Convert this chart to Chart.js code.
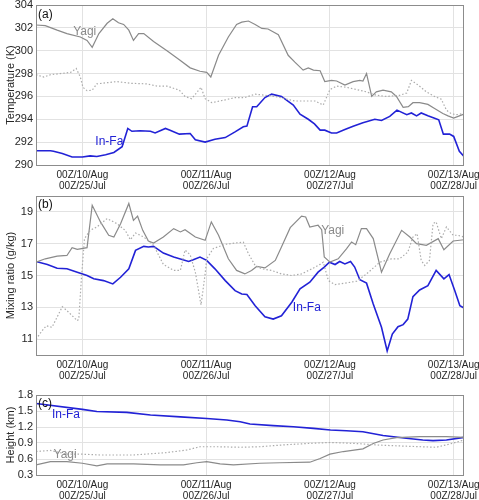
<!DOCTYPE html>
<html>
<head>
<meta charset="utf-8">
<script src="https://cdn.jsdelivr.net/npm/chart.js@4.4.1/dist/chart.umd.min.js"></script>
<style>
  body { margin: 0; background: #fff; }
  #wrap { position: relative; width: 479px; height: 500px; overflow: hidden; }
  canvas { position: absolute; left: 0; }
</style>
</head>
<body>
<div id="wrap">
  <canvas id="tempChart" width="479" height="195" style="top:0px"></canvas>
  <canvas id="mixChart" width="479" height="193" style="top:190px"></canvas>
  <canvas id="hgtChart" width="479" height="117" style="top:383px"></canvas>
</div>
<script>
// --- Axis ticks (hours after 00Z/10 Aug) ---
const tickHours = [0, 24, 48, 72];
const tickLabelsAug = ['00Z/10/Aug', '00Z/11/Aug', '00Z/12/Aug', '00Z/13/Aug'];
const tickLabelsJul = ['00Z/25/Jul', '00Z/26/Jul', '00Z/27/Jul', '00Z/28/Jul'];
const tempTicks = [290, 292, 294, 296, 298, 300, 302, 304];
const mixTicks = [11, 13, 15, 17, 19];
const hgtTicks = [0.3, 0.6, 0.9, 1.2, 1.5, 1.8];

// --- (a) Temperature ---
const tempYagiHours = [-9, -7.2, -4.9, -3, -0.4, 0.9, 1.9, 3.2, 4.8, 5.9, 7, 8, 9, 9.9, 10.9, 11.9, 13.8, 16.4, 18.8, 20.9, 22.8, 24.1, 24.9, 26.4, 28.3, 29.9, 30.9, 32.2, 33.5, 34.8, 36, 38, 39.9, 41.2, 42.8, 43.8, 44.8, 46.1, 47, 48.3, 49.3, 50.9, 52.5, 53.8, 54.4, 55.1, 56.1, 57, 58.3, 59.9, 60.9, 62.2, 63.2, 64.1, 65.4, 67, 68.3, 69.9, 70.9, 72, 73.1, 74];
const tempYagi = [302.25, 302.2, 301.8, 301.5, 301.2, 300.9, 300.3, 301.5, 302.4, 302.8, 302.45, 302.3, 301.8, 300.9, 301.5, 301.5, 300.8, 300.0, 299.2, 298.5, 298.2, 298.1, 297.7, 299.6, 301.2, 302.3, 302.5, 302.6, 302.3, 301.95, 301.9, 301.4, 299.6, 299.0, 298.3, 298.5, 298.3, 298.25, 297.3, 297.4, 297.35, 297.0, 297.3, 297.4, 297.35, 298.0, 296.0, 296.4, 296.55, 296.4, 296.0, 295.05, 295.1, 295.45, 295.45, 295.3, 294.95, 294.5, 294.3, 294.1, 294.3, 294.45];

const tempDotHours = [-9, -7.5, -6.2, -4.3, -2.3, -1.2, -0.4, 0.1, 0.9, 1.9, 2.8, 4.8, 6.7, 9.3, 12.5, 14.5, 16.4, 18.8, 19.9, 21.2, 23, 23.8, 25.1, 27.7, 29.6, 31.5, 33.5, 35.4, 37.3, 39.3, 41.2, 43.2, 45.1, 46.7, 48, 49.3, 51.2, 53.2, 55.1, 57, 59, 61.5, 62.9, 63.8, 65.1, 66.7, 68.3, 69.6, 70.6, 71.5, 72.5, 74];
const tempDot = [297.9, 297.7, 297.9, 298.0, 298.1, 298.45, 297.7, 296.8, 296.5, 296.55, 297.1, 297.2, 297.3, 297.15, 297.1, 296.9, 296.9, 296.55, 296.0, 295.8, 296.8, 295.8, 295.45, 295.7, 295.9, 295.9, 296.2, 296.1, 296.0, 295.8, 295.6, 295.6, 295.6, 295.25, 296.6, 296.9, 296.8, 296.6, 296.4, 296.1, 296.0, 296.1, 296.3, 297.4, 297.0, 296.4, 296.0, 295.75, 294.8, 294.5, 294.4, 294.5];

const tempInfaHours = [-9, -6.2, -5.6, -3.9, -2, 0, 1.5, 2.8, 4.5, 6.1, 7.7, 8.8, 9.6, 11.2, 13.2, 14.1, 16.1, 17, 18.8, 20.9, 21.9, 23.8, 25.7, 27.7, 29.6, 31.2, 31.9, 33, 33.8, 35.4, 36.7, 38.6, 40.9, 42.2, 43.8, 45, 46.1, 47, 48.3, 49.3, 50.9, 52.5, 54.4, 56.7, 58, 59.6, 61, 62.9, 63.8, 64.8, 65.7, 67, 68.3, 69.1, 70, 71.2, 72, 73.1, 74];
const tempInfa = [291.25, 291.25, 291.2, 291.0, 290.7, 290.7, 290.8, 290.75, 290.9, 291.1, 291.6, 293.2, 292.95, 293.0, 292.95, 292.8, 293.2, 293.05, 292.7, 292.75, 292.2, 292.0, 292.25, 292.4, 292.9, 293.35, 293.4, 295.1, 295.1, 295.9, 296.2, 296.0, 295.25, 294.45, 294.0, 293.6, 293.05, 293.05, 292.8, 292.8, 293.1, 293.4, 293.7, 294.0, 293.9, 294.25, 294.8, 294.4, 294.55, 294.3, 294.55, 294.3, 294.1, 293.95, 292.7, 292.7, 292.5, 291.2, 290.75];

// --- (b) Mixing ratio ---
const mixYagiHours = [-9, -7.2, -4.9, -3, -2, -1, 0.9, 1.9, 3.5, 5.1, 6.1, 7.4, 9, 9.9, 10.7, 11.7, 12.8, 13.8, 15.7, 17.7, 19, 19.9, 21.9, 23.8, 25, 26.4, 28.3, 29.9, 31.5, 32.8, 33.8, 35.4, 37.4, 38.6, 40.3, 42.5, 43.3, 44.1, 45.7, 46.4, 46.9, 48, 49.6, 51.2, 52.2, 53, 54.1, 55.1, 56.4, 58, 59.6, 61.9, 63.5, 64.8, 66.7, 69, 70.1, 71.9, 74];
const mixYagi = [15.84, 16.05, 16.22, 16.26, 16.75, 16.64, 16.75, 19.42, 18.37, 17.53, 17.42, 18.26, 19.53, 18.47, 18.73, 17.84, 17.17, 17.04, 17.42, 17.95, 17.74, 17.88, 17.42, 17.21, 18.37, 17.53, 16.05, 15.32, 15.1, 15.32, 15.57, 15.48, 15.95, 16.79, 18.01, 18.73, 18.68, 18.05, 18.16, 17.88, 16.16, 15.84, 16.05, 16.68, 17.11, 16.94, 17.95, 17.95, 17.32, 15.21, 16.37, 17.84, 17.42, 17.0, 16.9, 17.32, 16.62, 17.17, 17.25];

const mixDotHours = [-9, -7.8, -7, -5.9, -3.9, -3, -1, -0.7, -0.2, 0.4, 1.5, 2.8, 4.8, 6.7, 8.3, 9.3, 10.3, 11.9, 13.8, 15.7, 17.7, 19, 19.9, 20.9, 21.9, 23, 23.8, 24.1, 25.4, 27.7, 29.6, 31.2, 32.2, 33.5, 34.8, 36.7, 38.6, 40.6, 42.5, 44.5, 46.1, 46.7, 47.7, 49, 50.9, 53.2, 55.1, 57.7, 59.9, 61.5, 63.1, 64.1, 64.9, 65.7, 66.4, 67.3, 68, 68.6, 69.6, 70.6, 71.9, 72.8, 74];
const mixDot = [11.0, 11.53, 11.84, 11.74, 13.04, 12.79, 12.16, 12.26, 14.79, 17.32, 17.84, 18.05, 18.58, 18.26, 17.84, 17.25, 17.67, 17.42, 16.9, 15.7, 15.32, 15.32, 16.6, 16.3, 15.21, 13.15, 15.1, 16.05, 16.7, 16.96, 17.04, 17.1, 16.37, 15.63, 15.42, 15.32, 15.1, 15.0, 15.1, 15.42, 15.7, 15.84, 14.68, 14.43, 14.52, 14.64, 15.1, 15.84, 16.05, 16.05, 16.47, 17.42, 17.63, 15.95, 15.63, 15.95, 18.26, 18.37, 17.32, 18.05, 17.53, 17.53, 17.42];

const mixInfaHours = [-9, -6.8, -4.9, -3, -1, 0.9, 2.2, 4.1, 5.9, 7.4, 9, 10.3, 11.9, 12.8, 13.8, 15.7, 17.7, 20.6, 21.5, 22.8, 24.1, 25.7, 27.7, 29.6, 30.9, 31.9, 33.5, 35.4, 37, 38.6, 40.6, 42.2, 44.1, 45.7, 46.9, 47.9, 49, 49.9, 50.9, 52, 52.8, 53.8, 55.1, 56.4, 58, 59.1, 60.1, 61.2, 62.2, 63.1, 64.1, 65.4, 67, 68.6, 70.1, 71.1, 72.2, 73.2, 74];
const mixInfa = [15.88, 15.69, 15.46, 15.42, 15.21, 15.0, 14.79, 14.68, 14.47, 14.89, 15.42, 16.58, 16.83, 16.79, 16.83, 16.41, 16.16, 15.88, 15.99, 16.16, 15.95, 15.42, 14.68, 14.05, 13.84, 13.8, 13.1, 12.41, 12.26, 12.47, 13.32, 14.16, 14.58, 15.21, 15.53, 15.84, 15.69, 15.88, 15.73, 15.88, 15.53, 14.73, 14.52, 13.21, 11.74, 10.26, 11.32, 11.78, 11.91, 12.26, 13.67, 14.09, 14.36, 15.32, 14.79, 15.06, 14.05, 13.1, 12.96];

// --- (c) Height ---
const hgtInfaHours = [-9, 0, 2.8, 8.6, 13.2, 19, 24.1, 28, 30.6, 32.5, 37, 40.9, 44.8, 48.1, 51.2, 54.4, 58.3, 62.8, 66, 68, 70.6, 74];
const hgtInfa = [1.64, 1.53, 1.49, 1.475, 1.425, 1.39, 1.36, 1.33, 1.30, 1.256, 1.225, 1.206, 1.175, 1.144, 1.13, 1.11, 1.04, 0.99, 0.956, 0.944, 0.956, 1.006];

const hgtYagiHours = [-9, -6.2, -3, 0, 2.8, 4.8, 9.9, 15.1, 19.6, 22.2, 24.1, 26.7, 29.3, 34.4, 38.3, 44.1, 46.1, 48, 50.6, 54.4, 56.4, 58.3, 60.9, 65.4, 70.6, 74];
const hgtYagi = [0.49, 0.55, 0.55, 0.52, 0.47, 0.51, 0.51, 0.49, 0.49, 0.53, 0.55, 0.51, 0.49, 0.52, 0.53, 0.54, 0.61, 0.69, 0.74, 0.79, 0.89, 0.956, 1.0, 1.02, 1.02, 1.006];

const hgtDotHours = [-9, -6.2, -3, 0, 3.5, 9.9, 16.4, 20.3, 22.8, 26.1, 30.6, 34.4, 38.3, 43.5, 48.1, 53.2, 57.7, 62.8, 68.6, 71.2, 74];
const hgtDot = [0.74, 0.76, 0.69, 0.69, 0.675, 0.675, 0.72, 0.77, 0.83, 0.83, 0.82, 0.83, 0.86, 0.89, 0.91, 0.89, 0.86, 0.84, 0.82, 0.88, 0.956];

// --- Styles ---
const FONT = '"Liberation Sans", Arial, sans-serif';
const YAGI_COLOR = '#8a8a8a';
const DOT_COLOR = '#ababab';
const INFA_COLOR = '#2222d6';
const GRID_COLOR = '#e2e2e2';
const FRAME_COLOR = '#8c8c8c';
const TEXT_COLOR = '#262626';

Chart.defaults.font.family = FONT;
Chart.defaults.color = TEXT_COLOR;

function pts(xs, ys) {
    return xs.map((x, i) => ({ x: x, y: ys[i] }));
}

// box around the plot area
const framePlugin = {
    id: 'frame',
    afterDraw(chart) {
        const a = chart.chartArea;
        const ctx = chart.ctx;
        ctx.save();
        ctx.strokeStyle = FRAME_COLOR;
        ctx.lineWidth = 1;
        ctx.strokeRect(Math.round(a.left) + 0.5, Math.round(a.top) + 0.5, Math.round(a.right - a.left) - 1, Math.round(a.bottom - a.top));
        ctx.restore();
    }
};

// panel letter and series names
const labelPlugin = {
    id: 'panelLabels',
    afterDatasetsDraw(chart, args, opts) {
        const ctx = chart.ctx;
        const a = chart.chartArea;
        const xs = chart.scales.x, ys = chart.scales.y;
        ctx.save();
        ctx.textBaseline = 'middle';
        ctx.textAlign = 'left';
        ctx.font = '12px ' + FONT;
        ctx.fillStyle = '#111';
        ctx.fillText(opts.letter, a.left + 2, a.top + opts.letterDy);
        (opts.names || []).forEach(n => {
            ctx.fillStyle = n.color;
            ctx.fillText(n.text, xs.getPixelForValue(n.x), ys.getPixelForValue(n.y));
        });
        ctx.restore();
    }
};

function makePanel(id, o) {
    const ctx = document.getElementById(id).getContext('2d');
    return new Chart(ctx, {
        type: 'line',
        data: {
            datasets: [
                { data: pts(o.dotHours, o.dot), borderColor: DOT_COLOR, borderWidth: 1.2, borderDash: [1.5, 2] },
                { data: pts(o.yagiHours, o.yagi), borderColor: YAGI_COLOR, borderWidth: 1.2 },
                { data: pts(o.infaHours, o.infa), borderColor: INFA_COLOR, borderWidth: 1.6 }
            ]
        },
        options: {
            responsive: false,
            animation: false,
            devicePixelRatio: 1,
            elements: { point: { radius: 0 }, line: { tension: 0 } },
            layout: { padding: { top: o.padTop, right: 15, left: 0, bottom: 0 } },
            plugins: {
                legend: { display: false },
                tooltip: { enabled: false },
                panelLabels: { letter: o.letter, letterDy: o.letterDy, names: o.names }
            },
            scales: {
                x: {
                    type: 'linear',
                    min: -9,
                    max: 74,
                    afterBuildTicks: s => { s.ticks = tickHours.map(v => ({ value: v })); },
                    afterFit: s => { s.height = o.xAxisH; s.paddingLeft = 0; s.paddingRight = 0; },
                    ticks: {
                        padding: 5,
                        maxRotation: 0,
                        autoSkip: false,
                        font: { size: 10, lineHeight: 1.05 },
                        callback: (v) => {
                            const i = tickHours.indexOf(v);
                            return i < 0 ? '' : [tickLabelsAug[i], tickLabelsJul[i]];
                        }
                    },
                    grid: { color: GRID_COLOR, drawTicks: false },
                    border: { display: false }
                },
                y: {
                    min: o.yMin,
                    max: o.yMax,
                    afterBuildTicks: s => { s.ticks = o.yTicks.map(v => ({ value: v })); },
                    afterFit: s => { s.width = 36; s.paddingTop = 0; s.paddingBottom = 0; },
                    ticks: {
                        padding: 3,
                        autoSkip: false,
                        font: { size: 11 },
                        callback: o.yFmt
                    },
                    title: { display: true, text: o.yTitle, font: { size: 11 }, padding: { top: 4, bottom: 0 } },
                    grid: { color: GRID_COLOR, drawTicks: false },
                    border: { display: false }
                }
            }
        },
        plugins: [framePlugin, labelPlugin]
    });
}

// --- Initialization ---
makePanel('tempChart', {
    dotHours: tempDotHours, dot: tempDot,
    yagiHours: tempYagiHours, yagi: tempYagi,
    infaHours: tempInfaHours, infa: tempInfa,
    padTop: 5, xAxisH: 30,
    yMin: 290, yMax: 304, yTicks: tempTicks,
    yFmt: v => String(v),
    yTitle: 'Temperature (K)',
    letter: '(a)', letterDy: 10,
    names: [
        { text: 'Yagi', x: -1.8, y: 301.7, color: YAGI_COLOR },
        { text: 'In-Fa', x: 2.5, y: 292.0, color: INFA_COLOR }
    ]
});

makePanel('mixChart', {
    dotHours: mixDotHours, dot: mixDot,
    yagiHours: mixYagiHours, yagi: mixYagi,
    infaHours: mixInfaHours, infa: mixInfa,
    padTop: 6, xAxisH: 28,
    yMin: 10, yMax: 20, yTicks: mixTicks,
    yFmt: v => String(v),
    yTitle: 'Mixing ratio (g/kg)',
    letter: '(b)', letterDy: 9,
    names: [
        { text: 'Yagi', x: 46.3, y: 17.8, color: YAGI_COLOR },
        { text: 'In-Fa', x: 40.8, y: 13.0, color: INFA_COLOR }
    ]
});

makePanel('hgtChart', {
    dotHours: hgtDotHours, dot: hgtDot,
    yagiHours: hgtYagiHours, yagi: hgtYagi,
    infaHours: hgtInfaHours, infa: hgtInfa,
    padTop: 12, xAxisH: 25,
    yMin: 0.3, yMax: 1.8, yTicks: hgtTicks,
    yFmt: v => Number(v).toFixed(1),
    yTitle: 'Height (km)',
    letter: '(c)', letterDy: 8.5,
    names: [
        { text: 'In-Fa', x: -5.9, y: 1.425, color: INFA_COLOR },
        { text: 'Yagi', x: -5.6, y: 0.69, color: YAGI_COLOR }
    ]
});
</script>
</body>
</html>
